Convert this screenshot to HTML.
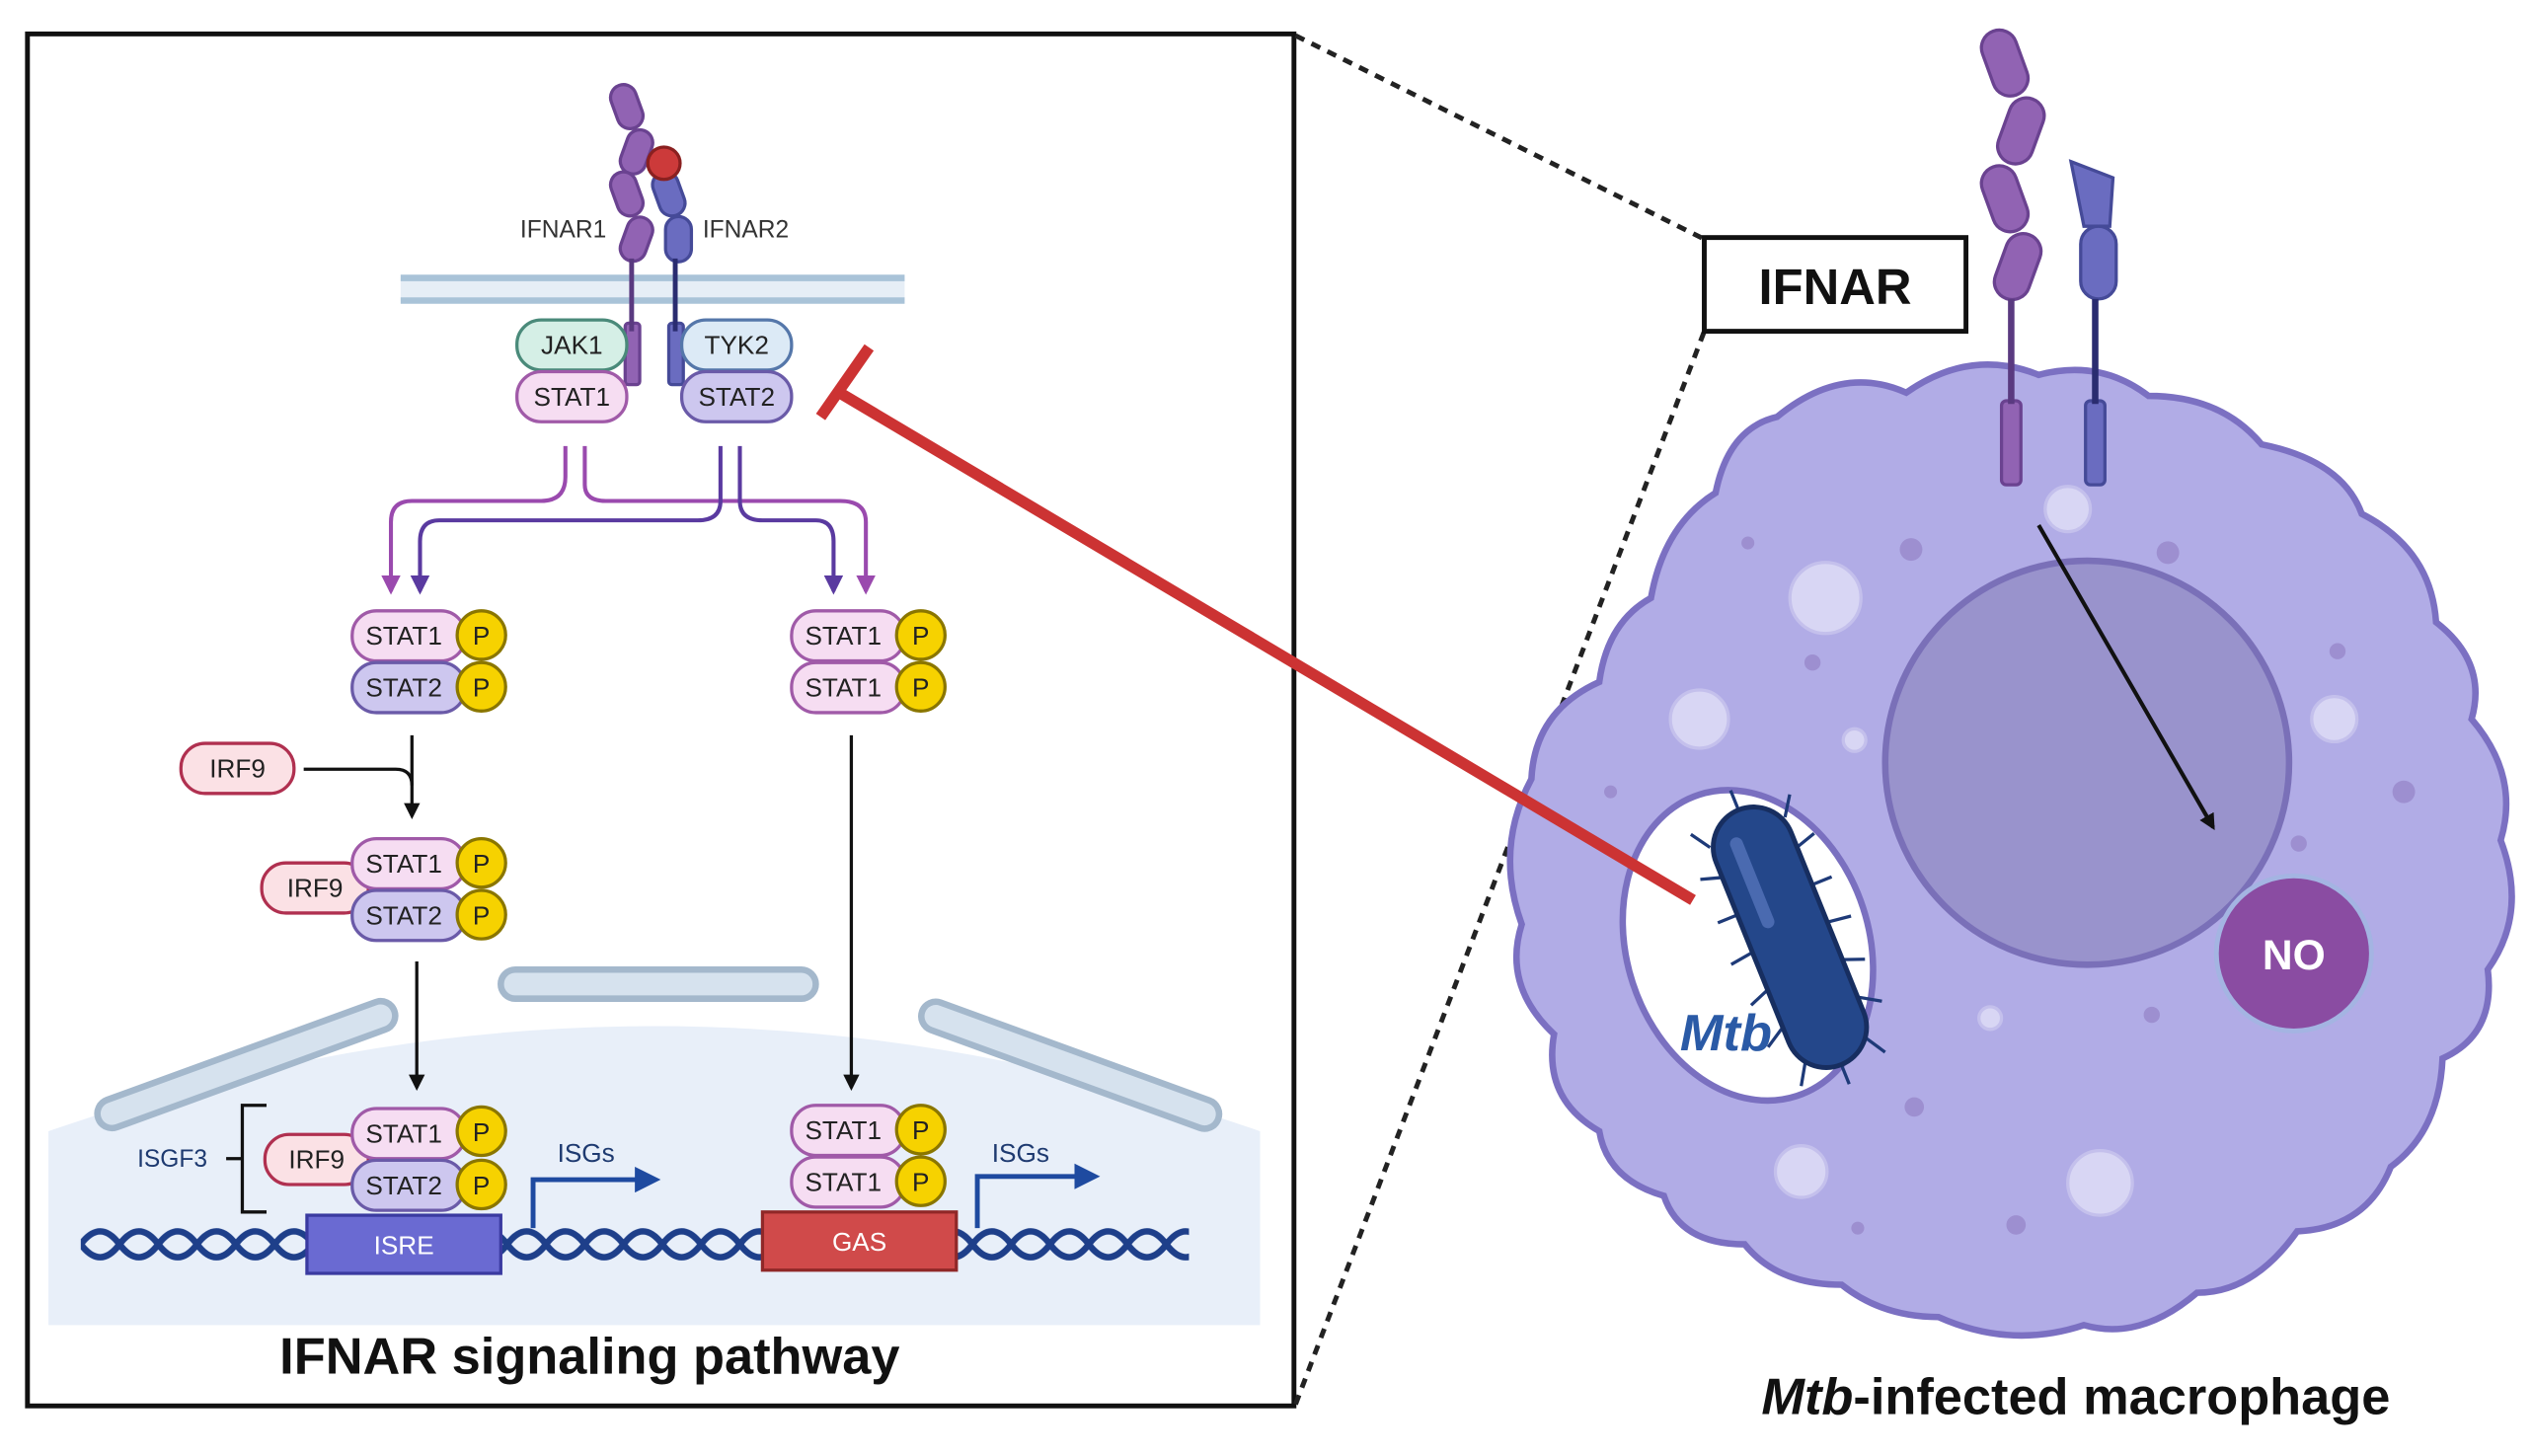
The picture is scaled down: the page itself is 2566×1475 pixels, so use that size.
<!DOCTYPE html>
<html><head><meta charset="utf-8"><style>
html,body{margin:0;padding:0;background:#fff}
svg{display:block}
text{font-family:"Liberation Sans",sans-serif}
</style></head><body>
<svg width="2566" height="1475" viewBox="0 0 1568 901" preserveAspectRatio="none" xmlns="http://www.w3.org/2000/svg">
<defs>
<pattern id="dna" x="50" y="752" width="48" height="36" patternUnits="userSpaceOnUse">
<path d="M0,18 Q12,2 24,18 T48,18" fill="none" stroke="#1e3f8a" stroke-width="4"/>
<path d="M0,18 Q12,34 24,18 T48,18" fill="none" stroke="#1e3f8a" stroke-width="4"/>
</pattern>
<marker id="ak" markerWidth="10" markerHeight="10" refX="8" refY="5" orient="auto" markerUnits="userSpaceOnUse"><path d="M0,0 L10,5 L0,10 Z" fill="#111"/></marker>
<marker id="ap" markerWidth="12" markerHeight="12" refX="10" refY="6" orient="auto" markerUnits="userSpaceOnUse"><path d="M0,0 L12,6 L0,12 Z" fill="#9a4aae"/></marker>
<marker id="ab" markerWidth="12" markerHeight="12" refX="10" refY="6" orient="auto" markerUnits="userSpaceOnUse"><path d="M0,0 L12,6 L0,12 Z" fill="#5a3aa0"/></marker>
<marker id="ag" markerWidth="16" markerHeight="16" refX="12" refY="8" orient="auto" markerUnits="userSpaceOnUse"><path d="M0,0 L16,8 L0,16 Z" fill="#1e4aa0"/></marker>
</defs>

<!-- left panel -->
<path d="M30,820 L30,700 Q405,570 780,700 L780,820 Z" fill="#e8eff9"/>
<g fill="#d6e2ee" stroke="#a4b8cc" stroke-width="4">
<rect x="55" y="650" width="195" height="18" rx="9" transform="rotate(-20 152 659)"/>
<rect x="310" y="600" width="195" height="18" rx="9"/>
<rect x="565" y="650" width="195" height="18" rx="9" transform="rotate(20 662 659)"/>
</g>
<rect x="17" y="21" width="784" height="849" fill="none" stroke="#111" stroke-width="3"/>

<!-- membrane -->
<rect x="248" y="172" width="312" height="14" fill="#e6eef6"/>
<line x1="248" y1="172" x2="560" y2="172" stroke="#a9c3d8" stroke-width="4"/>
<line x1="248" y1="186" x2="560" y2="186" stroke="#a9c3d8" stroke-width="4"/>

<!-- receptors -->
<g fill="#9163b3" stroke="#6a4290" stroke-width="2">
<rect x="380" y="52" width="16" height="28" rx="8" transform="rotate(-20 388 66)"/>
<rect x="386" y="80" width="16" height="28" rx="8" transform="rotate(20 394 94)"/>
<rect x="380" y="106" width="16" height="28" rx="8" transform="rotate(-20 388 120)"/>
<rect x="386" y="134" width="16" height="28" rx="8" transform="rotate(20 394 148)"/>
<rect x="387" y="200" width="9" height="38" rx="2"/>
</g>
<line x1="391" y1="160" x2="391" y2="205" stroke="#5a3a80" stroke-width="3"/>
<g fill="#6a6cc0" stroke="#454a98" stroke-width="2">
<rect x="406" y="106" width="16" height="28" rx="8" transform="rotate(-20 414 120)"/>
<rect x="412" y="134" width="16" height="28" rx="8"/>
<rect x="414" y="200" width="9" height="38" rx="2"/>
</g>
<line x1="418" y1="160" x2="418" y2="205" stroke="#2a2c70" stroke-width="3"/>
<circle cx="411" cy="101" r="10" fill="#cc3a3a" stroke="#8a2020" stroke-width="2"/>
<text x="322" y="147" font-size="15" fill="#333">IFNAR1</text>
<text x="435" y="147" font-size="15" fill="#333">IFNAR2</text>

<g font-size="16" text-anchor="middle" fill="#222">
<rect x="320" y="198" width="68" height="31" rx="15" fill="#d5efe6" stroke="#4a8a7a" stroke-width="2"/><text x="354" y="219">JAK1</text>
<rect x="422" y="198" width="68" height="31" rx="15" fill="#dceaf6" stroke="#5577aa" stroke-width="2"/><text x="456" y="219">TYK2</text>
<rect x="320" y="230" width="68" height="31" rx="15" fill="#f6ddf2" stroke="#a05aa8" stroke-width="2"/><text x="354" y="251">STAT1</text>
<rect x="422" y="230" width="68" height="31" rx="15" fill="#cdc7ef" stroke="#6a5aa8" stroke-width="2"/><text x="456" y="251">STAT2</text>
</g>

<!-- branching arrows -->
<g fill="none" stroke-width="2.5">
<path d="M350,276 V295 Q350,310 335,310 H255 Q242,310 242,323 V366" stroke="#9a4aae" marker-end="url(#ap)"/>
<path d="M362,276 V300 Q362,310 375,310 H520 Q536,310 536,323 V366" stroke="#9a4aae" marker-end="url(#ap)"/>
<path d="M446,276 V310 Q446,322 432,322 H272 Q260,322 260,335 V366" stroke="#5a3aa0" marker-end="url(#ab)"/>
<path d="M458,276 V310 Q458,322 472,322 H505 Q516,322 516,335 V366" stroke="#5a3aa0" marker-end="url(#ab)"/>
</g>

<!-- stat groups -->
<g font-size="16" text-anchor="middle" fill="#222" stroke-width="2">
<rect x="218" y="378" width="70" height="31" rx="15" fill="#f6ddf2" stroke="#a05aa8"/><text x="250" y="399">STAT1</text>
<rect x="218" y="410" width="70" height="31" rx="15" fill="#cdc7ef" stroke="#6a5aa8"/><text x="250" y="431">STAT2</text>
<rect x="490" y="378" width="70" height="31" rx="15" fill="#f6ddf2" stroke="#a05aa8"/><text x="522" y="399">STAT1</text>
<rect x="490" y="410" width="70" height="31" rx="15" fill="#f6ddf2" stroke="#a05aa8"/><text x="522" y="431">STAT1</text>
<rect x="112" y="460" width="70" height="31" rx="15" fill="#fbe1e5" stroke="#b03050"/><text x="147" y="481">IRF9</text>
<rect x="162" y="534" width="66" height="31" rx="15" fill="#fbe1e5" stroke="#b03050"/><text x="195" y="555">IRF9</text>
<rect x="218" y="519" width="70" height="31" rx="15" fill="#f6ddf2" stroke="#a05aa8"/><text x="250" y="540">STAT1</text>
<rect x="218" y="551" width="70" height="31" rx="15" fill="#cdc7ef" stroke="#6a5aa8"/><text x="250" y="572">STAT2</text>
<rect x="164" y="702" width="64" height="31" rx="15" fill="#fbe1e5" stroke="#b03050"/><text x="196" y="723">IRF9</text>
<rect x="218" y="686" width="70" height="31" rx="15" fill="#f6ddf2" stroke="#a05aa8"/><text x="250" y="707">STAT1</text>
<rect x="218" y="718" width="70" height="31" rx="15" fill="#cdc7ef" stroke="#6a5aa8"/><text x="250" y="739">STAT2</text>
<rect x="490" y="684" width="70" height="31" rx="15" fill="#f6ddf2" stroke="#a05aa8"/><text x="522" y="705">STAT1</text>
<rect x="490" y="716" width="70" height="31" rx="15" fill="#f6ddf2" stroke="#a05aa8"/><text x="522" y="737">STAT1</text>
</g>
<g fill="#f6d200" stroke="#8a7600" stroke-width="2">
<circle cx="298" cy="393" r="15"/><circle cx="298" cy="425" r="15"/>
<circle cx="570" cy="393" r="15"/><circle cx="570" cy="425" r="15"/>
<circle cx="298" cy="534" r="15"/><circle cx="298" cy="566" r="15"/>
<circle cx="298" cy="700" r="15"/><circle cx="298" cy="733" r="15"/>
<circle cx="570" cy="699" r="15"/><circle cx="570" cy="731" r="15"/>
</g>
<g font-size="16" text-anchor="middle" fill="#222">
<text x="298" y="399">P</text><text x="298" y="431">P</text><text x="570" y="399">P</text><text x="570" y="431">P</text>
<text x="298" y="540">P</text><text x="298" y="572">P</text><text x="298" y="706">P</text><text x="298" y="739">P</text>
<text x="570" y="705">P</text><text x="570" y="737">P</text>
</g>

<g fill="none" stroke="#111" stroke-width="2">
<path d="M255,455 V505" marker-end="url(#ak)"/>
<path d="M188,476 H245 Q255,476 255,486" />
<path d="M258,595 V673" marker-end="url(#ak)"/>
<path d="M527,455 V673" marker-end="url(#ak)"/>
<path d="M165,684 H150 V750 H165"/>
<line x1="140" y1="717" x2="150" y2="717"/>
</g>
<text x="85" y="722" font-size="15" fill="#1e3a70">ISGF3</text>

<!-- DNA -->
<rect x="50" y="752" width="686" height="36" fill="url(#dna)"/>
<rect x="190" y="752" width="120" height="36" fill="#6a6ad2" stroke="#3a3aa0" stroke-width="2"/>
<text x="250" y="776" font-size="16" fill="#fff" text-anchor="middle">ISRE</text>
<rect x="472" y="750" width="120" height="36" fill="#d04a4a" stroke="#902828" stroke-width="2"/>
<text x="532" y="774" font-size="16" fill="#fff" text-anchor="middle">GAS</text>
<g fill="none" stroke="#1e4aa0" stroke-width="3">
<path d="M330,760 V730 H405" marker-end="url(#ag)"/>
<path d="M605,760 V728 H677" marker-end="url(#ag)"/>
</g>
<text x="345" y="719" font-size="16" fill="#1e3a70">ISGs</text>
<text x="614" y="719" font-size="16" fill="#1e3a70">ISGs</text>
<text x="365" y="850" font-size="32" font-weight="bold" text-anchor="middle" fill="#111">IFNAR signaling pathway</text>

<!-- dotted connectors -->
<line x1="802" y1="22" x2="1055" y2="148" stroke="#222" stroke-width="3" stroke-dasharray="6,5"/>
<line x1="802" y1="869" x2="1055" y2="205" stroke="#222" stroke-width="3" stroke-dasharray="6,5"/>

<!-- macrophage -->
<path d="M1100,258 Q1140,225 1180,243 Q1220,215 1262,232 Q1300,222 1330,245 Q1375,245 1400,275 Q1450,285 1462,318 Q1505,340 1508,385 Q1540,410 1530,445 Q1560,480 1548,520 Q1565,565 1540,600 Q1545,640 1512,655 Q1510,700 1480,722 Q1465,760 1422,762 Q1395,800 1360,800 Q1325,830 1290,820 Q1245,835 1200,815 Q1165,815 1140,795 Q1100,795 1080,770 Q1040,770 1030,740 Q995,730 990,700 Q955,680 962,640 Q930,610 942,572 Q925,525 948,482 Q950,440 990,422 Q995,385 1022,370 Q1030,325 1062,305 Q1070,265 1100,258 Z" fill="#b1ace6" stroke="#7b70c2" stroke-width="4"/>
<g fill="#d8d6f4" stroke="#c4c0ec" stroke-width="2">
<circle cx="1130" cy="370" r="22"/><circle cx="1052" cy="445" r="18"/><circle cx="1280" cy="315" r="14"/>
<circle cx="1445" cy="445" r="14"/><circle cx="1115" cy="725" r="16"/><circle cx="1300" cy="732" r="20"/>
<circle cx="1232" cy="630" r="7"/><circle cx="1148" cy="458" r="7"/>
</g>
<g fill="#9d8fd0"><circle cx="1183" cy="340" r="7"/><circle cx="1342" cy="342" r="7"/><circle cx="1122" cy="410" r="5"/><circle cx="1488" cy="490" r="7"/><circle cx="1447" cy="403" r="5"/><circle cx="1185" cy="685" r="6"/><circle cx="1248" cy="758" r="6"/><circle cx="1332" cy="628" r="5"/><circle cx="1423" cy="522" r="5"/><circle cx="1082" cy="336" r="4"/><circle cx="997" cy="490" r="4"/><circle cx="1150" cy="760" r="4"/></g>
<circle cx="1292" cy="472" r="125" fill="#9993cc" stroke="#7a70b8" stroke-width="4"/>
<circle cx="1420" cy="590" r="48" fill="#8a4ca2" stroke="#a4b4e2" stroke-width="3"/>
<text x="1420" y="600" font-size="26" font-weight="bold" fill="#fff" text-anchor="middle">NO</text>
<line x1="1262" y1="325" x2="1370" y2="512" stroke="#111" stroke-width="2.5" marker-end="url(#ak)"/>

<ellipse cx="1082" cy="585" rx="75" ry="98" transform="rotate(-18 1082 585)" fill="#fff" stroke="#7a70c0" stroke-width="4"/>
<g transform="rotate(-22 1108 580)">
<g stroke="#1e3a78" stroke-width="2">
<line x1="1083" y1="510" x2="1075" y2="498"/><line x1="1083" y1="530" x2="1070" y2="526"/><line x1="1083" y1="555" x2="1070" y2="555"/><line x1="1083" y1="580" x2="1068" y2="582"/><line x1="1083" y1="605" x2="1070" y2="610"/><line x1="1083" y1="630" x2="1070" y2="638"/><line x1="1088" y1="655" x2="1080" y2="668"/>
<line x1="1133" y1="510" x2="1141" y2="498"/><line x1="1133" y1="530" x2="1146" y2="526"/><line x1="1133" y1="555" x2="1146" y2="555"/><line x1="1133" y1="580" x2="1148" y2="582"/><line x1="1133" y1="605" x2="1146" y2="610"/><line x1="1133" y1="630" x2="1146" y2="638"/><line x1="1128" y1="655" x2="1136" y2="668"/>
<line x1="1108" y1="495" x2="1108" y2="482"/><line x1="1108" y1="665" x2="1108" y2="678"/>
</g>
<rect x="1083" y="495" width="50" height="170" rx="25" fill="#24478a" stroke="#172e60" stroke-width="3"/>
<rect x="1095" y="510" width="8" height="60" rx="4" fill="#4a6ab0"/>
</g>
<text x="1040" y="650" font-size="32" font-weight="bold" font-style="italic" fill="#2a5aa6">Mtb</text>

<!-- right receptors -->
<g fill="#9163b3" stroke="#6a4290" stroke-width="2">
<rect x="1230" y="18" width="22" height="42" rx="11" transform="rotate(-20 1241 39)"/>
<rect x="1240" y="60" width="22" height="42" rx="11" transform="rotate(20 1251 81)"/>
<rect x="1230" y="102" width="22" height="42" rx="11" transform="rotate(-20 1241 123)"/>
<rect x="1238" y="144" width="22" height="42" rx="11" transform="rotate(20 1249 165)"/>
<rect x="1239" y="248" width="12" height="52" rx="3"/>
</g>
<line x1="1245" y1="185" x2="1245" y2="250" stroke="#5a3a80" stroke-width="4"/>
<g fill="#6a6cc0" stroke="#454a98" stroke-width="2">
<path d="M1282,100 L1308,110 L1306,140 L1290,140 Z"/>
<rect x="1288" y="140" width="22" height="45" rx="11"/>
<rect x="1291" y="248" width="12" height="52" rx="3"/>
</g>
<line x1="1297" y1="185" x2="1297" y2="250" stroke="#2a2c70" stroke-width="4"/>

<!-- IFNAR box -->
<rect x="1055" y="147" width="162" height="58" fill="#fff" stroke="#111" stroke-width="3"/>
<text x="1136" y="188" font-size="31" font-weight="bold" text-anchor="middle" fill="#111">IFNAR</text>

<!-- inhibition -->
<line x1="1048" y1="557" x2="518" y2="242" stroke="#cc3333" stroke-width="7"/>
<line x1="538" y1="215" x2="508" y2="258" stroke="#cc3333" stroke-width="7"/>

<text x="1285" y="875" font-size="32" font-weight="bold" text-anchor="middle" fill="#111"><tspan font-style="italic">Mtb</tspan>-infected macrophage</text>
</svg>
</body></html>
